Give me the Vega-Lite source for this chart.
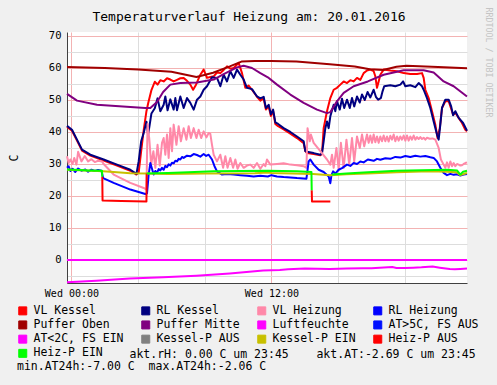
{
  "$schema": "https://vega.github.io/schema/vega-lite/v6.json",
  "width": 400,
  "height": 251,
  "autosize": {"type": "none"},
  "padding": {"left": 67, "top": 32, "right": 30, "bottom": 102},
  "background": "#f0f0f0",
  "config": {"view": {"fill": "#ffffff", "stroke": null}, "font": "DejaVu Sans Mono"},
  "title": {"text": "Temperaturverlauf Heizung am: 20.01.2016", "font": "DejaVu Sans Mono", "fontSize": 13, "fontWeight": "normal", "color": "#000000", "anchor": "middle", "frame": "group", "baseline": "alphabetic", "dx": -18, "offset": -27},
  "data": {"values": [
    {"s":"VL Kessel","t":"2016-01-19T23:44","v":41.6},{"s":"VL Kessel","t":"2016-01-20T00:02","v":40.4},{"s":"VL Kessel","t":"2016-01-20T00:20","v":37.3},{"s":"VL Kessel","t":"2016-01-20T00:38","v":34.2},{"s":"VL Kessel","t":"2016-01-20T01:08","v":32.6},{"s":"VL Kessel","t":"2016-01-20T01:56","v":31.1},{"s":"VL Kessel","t":"2016-01-20T02:44","v":29.5},{"s":"VL Kessel","t":"2016-01-20T03:32","v":27.9},{"s":"VL Kessel","t":"2016-01-20T03:54","v":26.7},{"s":"VL Kessel","t":"2016-01-20T04:02","v":27.3},{"s":"VL Kessel","t":"2016-01-20T04:11","v":34.0},{"s":"VL Kessel","t":"2016-01-20T04:20","v":40.5},{"s":"VL Kessel","t":"2016-01-20T04:30","v":46.5},{"s":"VL Kessel","t":"2016-01-20T04:36","v":48.9},{"s":"VL Kessel","t":"2016-01-20T04:48","v":53.1},{"s":"VL Kessel","t":"2016-01-20T05:00","v":55.7},{"s":"VL Kessel","t":"2016-01-20T05:10","v":54.8},{"s":"VL Kessel","t":"2016-01-20T05:20","v":56.2},{"s":"VL Kessel","t":"2016-01-20T05:32","v":55.8},{"s":"VL Kessel","t":"2016-01-20T05:44","v":56.8},{"s":"VL Kessel","t":"2016-01-20T05:56","v":56.4},{"s":"VL Kessel","t":"2016-01-20T06:08","v":55.8},{"s":"VL Kessel","t":"2016-01-20T06:20","v":56.3},{"s":"VL Kessel","t":"2016-01-20T06:32","v":56.8},{"s":"VL Kessel","t":"2016-01-20T06:44","v":56.9},{"s":"VL Kessel","t":"2016-01-20T06:56","v":56.0},{"s":"VL Kessel","t":"2016-01-20T07:08","v":54.8},{"s":"VL Kessel","t":"2016-01-20T07:18","v":53.2},{"s":"VL Kessel","t":"2016-01-20T07:28","v":54.7},{"s":"VL Kessel","t":"2016-01-20T07:44","v":57.9},{"s":"VL Kessel","t":"2016-01-20T07:56","v":59.5},{"s":"VL Kessel","t":"2016-01-20T08:08","v":56.9},{"s":"VL Kessel","t":"2016-01-20T08:20","v":57.2},{"s":"VL Kessel","t":"2016-01-20T08:32","v":57.4},{"s":"VL Kessel","t":"2016-01-20T08:44","v":58.6},{"s":"VL Kessel","t":"2016-01-20T08:56","v":58.4},{"s":"VL Kessel","t":"2016-01-20T09:08","v":59.4},{"s":"VL Kessel","t":"2016-01-20T09:20","v":60.5},{"s":"VL Kessel","t":"2016-01-20T09:32","v":59.8},{"s":"VL Kessel","t":"2016-01-20T09:44","v":60.0},{"s":"VL Kessel","t":"2016-01-20T10:02","v":61.6},{"s":"VL Kessel","t":"2016-01-20T10:14","v":58.4},{"s":"VL Kessel","t":"2016-01-20T10:26","v":53.8},{"s":"VL Kessel","t":"2016-01-20T10:38","v":54.5},{"s":"VL Kessel","t":"2016-01-20T10:50","v":53.2},{"s":"VL Kessel","t":"2016-01-20T11:08","v":51.0},{"s":"VL Kessel","t":"2016-01-20T11:20","v":49.8},{"s":"VL Kessel","t":"2016-01-20T11:32","v":50.5},{"s":"VL Kessel","t":"2016-01-20T11:40","v":47.0},{"s":"VL Kessel","t":"2016-01-20T11:50","v":48.0},{"s":"VL Kessel","t":"2016-01-20T11:58","v":45.0},{"s":"VL Kessel","t":"2016-01-20T12:06","v":46.5},{"s":"VL Kessel","t":"2016-01-20T12:14","v":42.5},{"s":"VL Kessel","t":"2016-01-20T12:24","v":41.8},{"s":"VL Kessel","t":"2016-01-20T12:44","v":40.8},{"s":"VL Kessel","t":"2016-01-20T13:08","v":39.5},{"s":"VL Kessel","t":"2016-01-20T13:32","v":38.1},{"s":"VL Kessel","t":"2016-01-20T13:56","v":36.5},{"s":"VL Kessel","t":"2016-01-20T14:02","v":34.0},{"s":"VL Kessel","t":"2016-01-20T14:08","v":33.4},{"s":"VL Kessel","t":"2016-01-20T14:32","v":33.1},{"s":"VL Kessel","t":"2016-01-20T14:56","v":32.7},{"s":"VL Kessel","t":"2016-01-20T15:02","v":33.2},{"s":"VL Kessel","t":"2016-01-20T15:08","v":41.2},{"s":"VL Kessel","t":"2016-01-20T15:20","v":46.5},{"s":"VL Kessel","t":"2016-01-20T15:32","v":50.6},{"s":"VL Kessel","t":"2016-01-20T15:44","v":53.2},{"s":"VL Kessel","t":"2016-01-20T15:56","v":53.8},{"s":"VL Kessel","t":"2016-01-20T16:08","v":54.8},{"s":"VL Kessel","t":"2016-01-20T16:20","v":55.8},{"s":"VL Kessel","t":"2016-01-20T16:32","v":55.3},{"s":"VL Kessel","t":"2016-01-20T16:44","v":56.2},{"s":"VL Kessel","t":"2016-01-20T16:56","v":55.8},{"s":"VL Kessel","t":"2016-01-20T17:08","v":56.9},{"s":"VL Kessel","t":"2016-01-20T17:20","v":56.3},{"s":"VL Kessel","t":"2016-01-20T17:32","v":58.4},{"s":"VL Kessel","t":"2016-01-20T17:44","v":59.2},{"s":"VL Kessel","t":"2016-01-20T17:56","v":59.5},{"s":"VL Kessel","t":"2016-01-20T18:08","v":59.0},{"s":"VL Kessel","t":"2016-01-20T18:14","v":57.4},{"s":"VL Kessel","t":"2016-01-20T18:20","v":53.8},{"s":"VL Kessel","t":"2016-01-20T18:26","v":55.8},{"s":"VL Kessel","t":"2016-01-20T18:32","v":57.9},{"s":"VL Kessel","t":"2016-01-20T18:44","v":59.5},{"s":"VL Kessel","t":"2016-01-20T19:08","v":59.2},{"s":"VL Kessel","t":"2016-01-20T19:32","v":59.0},{"s":"VL Kessel","t":"2016-01-20T19:56","v":58.4},{"s":"VL Kessel","t":"2016-01-20T20:20","v":58.1},{"s":"VL Kessel","t":"2016-01-20T20:44","v":58.1},{"s":"VL Kessel","t":"2016-01-20T21:02","v":58.4},{"s":"VL Kessel","t":"2016-01-20T21:08","v":56.9},{"s":"VL Kessel","t":"2016-01-20T21:14","v":53.2},{"s":"VL Kessel","t":"2016-01-20T21:26","v":50.6},{"s":"VL Kessel","t":"2016-01-20T21:38","v":46.5},{"s":"VL Kessel","t":"2016-01-20T21:50","v":42.3},{"s":"VL Kessel","t":"2016-01-20T21:58","v":38.1},{"s":"VL Kessel","t":"2016-01-20T22:06","v":41.2},{"s":"VL Kessel","t":"2016-01-20T22:14","v":47.5},{"s":"VL Kessel","t":"2016-01-20T22:26","v":49.6},{"s":"VL Kessel","t":"2016-01-20T22:38","v":49.6},{"s":"VL Kessel","t":"2016-01-20T22:46","v":47.5},{"s":"VL Kessel","t":"2016-01-20T22:54","v":45.4},{"s":"VL Kessel","t":"2016-01-20T23:02","v":46.0},{"s":"VL Kessel","t":"2016-01-20T23:14","v":44.4},{"s":"VL Kessel","t":"2016-01-20T23:26","v":42.8},{"s":"VL Kessel","t":"2016-01-20T23:38","v":40.7},{"s":"VL Kessel","t":"2016-01-20T23:44","v":40.2},
    {"s":"RL Kessel","t":"2016-01-19T23:44","v":41.9},{"s":"RL Kessel","t":"2016-01-20T00:02","v":40.7},{"s":"RL Kessel","t":"2016-01-20T00:20","v":37.6},{"s":"RL Kessel","t":"2016-01-20T00:38","v":34.5},{"s":"RL Kessel","t":"2016-01-20T01:08","v":32.9},{"s":"RL Kessel","t":"2016-01-20T01:56","v":31.4},{"s":"RL Kessel","t":"2016-01-20T02:44","v":29.8},{"s":"RL Kessel","t":"2016-01-20T03:32","v":28.2},{"s":"RL Kessel","t":"2016-01-20T03:54","v":26.9},{"s":"RL Kessel","t":"2016-01-20T04:02","v":30.8},{"s":"RL Kessel","t":"2016-01-20T04:11","v":37.1},{"s":"RL Kessel","t":"2016-01-20T04:20","v":39.7},{"s":"RL Kessel","t":"2016-01-20T04:30","v":43.2},{"s":"RL Kessel","t":"2016-01-20T04:36","v":39.1},{"s":"RL Kessel","t":"2016-01-20T04:48","v":45.8},{"s":"RL Kessel","t":"2016-01-20T05:00","v":47.4},{"s":"RL Kessel","t":"2016-01-20T05:10","v":50.5},{"s":"RL Kessel","t":"2016-01-20T05:20","v":46.5},{"s":"RL Kessel","t":"2016-01-20T05:32","v":48.5},{"s":"RL Kessel","t":"2016-01-20T05:38","v":51.1},{"s":"RL Kessel","t":"2016-01-20T05:46","v":46.8},{"s":"RL Kessel","t":"2016-01-20T05:56","v":50.2},{"s":"RL Kessel","t":"2016-01-20T06:08","v":47.0},{"s":"RL Kessel","t":"2016-01-20T06:14","v":50.6},{"s":"RL Kessel","t":"2016-01-20T06:20","v":46.8},{"s":"RL Kessel","t":"2016-01-20T06:32","v":51.1},{"s":"RL Kessel","t":"2016-01-20T06:44","v":47.5},{"s":"RL Kessel","t":"2016-01-20T06:56","v":50.6},{"s":"RL Kessel","t":"2016-01-20T07:08","v":49.1},{"s":"RL Kessel","t":"2016-01-20T07:20","v":47.0},{"s":"RL Kessel","t":"2016-01-20T07:32","v":50.1},{"s":"RL Kessel","t":"2016-01-20T07:44","v":51.1},{"s":"RL Kessel","t":"2016-01-20T07:56","v":53.2},{"s":"RL Kessel","t":"2016-01-20T08:08","v":54.3},{"s":"RL Kessel","t":"2016-01-20T08:26","v":57.1},{"s":"RL Kessel","t":"2016-01-20T08:44","v":56.9},{"s":"RL Kessel","t":"2016-01-20T08:56","v":54.3},{"s":"RL Kessel","t":"2016-01-20T09:08","v":57.9},{"s":"RL Kessel","t":"2016-01-20T09:20","v":55.8},{"s":"RL Kessel","t":"2016-01-20T09:32","v":59.0},{"s":"RL Kessel","t":"2016-01-20T09:44","v":56.9},{"s":"RL Kessel","t":"2016-01-20T09:56","v":59.5},{"s":"RL Kessel","t":"2016-01-20T10:08","v":57.9},{"s":"RL Kessel","t":"2016-01-20T10:20","v":56.4},{"s":"RL Kessel","t":"2016-01-20T10:32","v":53.8},{"s":"RL Kessel","t":"2016-01-20T10:50","v":53.4},{"s":"RL Kessel","t":"2016-01-20T11:08","v":51.1},{"s":"RL Kessel","t":"2016-01-20T11:20","v":50.5},{"s":"RL Kessel","t":"2016-01-20T11:32","v":51.0},{"s":"RL Kessel","t":"2016-01-20T11:40","v":47.5},{"s":"RL Kessel","t":"2016-01-20T11:50","v":48.5},{"s":"RL Kessel","t":"2016-01-20T11:58","v":45.5},{"s":"RL Kessel","t":"2016-01-20T12:06","v":47.0},{"s":"RL Kessel","t":"2016-01-20T12:14","v":43.0},{"s":"RL Kessel","t":"2016-01-20T12:24","v":42.5},{"s":"RL Kessel","t":"2016-01-20T12:44","v":41.2},{"s":"RL Kessel","t":"2016-01-20T13:08","v":40.0},{"s":"RL Kessel","t":"2016-01-20T13:32","v":38.6},{"s":"RL Kessel","t":"2016-01-20T13:56","v":37.1},{"s":"RL Kessel","t":"2016-01-20T14:02","v":34.0},{"s":"RL Kessel","t":"2016-01-20T14:08","v":33.8},{"s":"RL Kessel","t":"2016-01-20T14:32","v":33.4},{"s":"RL Kessel","t":"2016-01-20T14:56","v":32.9},{"s":"RL Kessel","t":"2016-01-20T15:02","v":33.4},{"s":"RL Kessel","t":"2016-01-20T15:08","v":37.1},{"s":"RL Kessel","t":"2016-01-20T15:14","v":41.2},{"s":"RL Kessel","t":"2016-01-20T15:20","v":43.3},{"s":"RL Kessel","t":"2016-01-20T15:26","v":41.2},{"s":"RL Kessel","t":"2016-01-20T15:32","v":44.9},{"s":"RL Kessel","t":"2016-01-20T15:44","v":48.5},{"s":"RL Kessel","t":"2016-01-20T15:50","v":46.5},{"s":"RL Kessel","t":"2016-01-20T15:56","v":49.6},{"s":"RL Kessel","t":"2016-01-20T16:06","v":47.0},{"s":"RL Kessel","t":"2016-01-20T16:14","v":50.4},{"s":"RL Kessel","t":"2016-01-20T16:22","v":47.5},{"s":"RL Kessel","t":"2016-01-20T16:32","v":50.1},{"s":"RL Kessel","t":"2016-01-20T16:42","v":47.5},{"s":"RL Kessel","t":"2016-01-20T16:50","v":50.6},{"s":"RL Kessel","t":"2016-01-20T16:58","v":48.0},{"s":"RL Kessel","t":"2016-01-20T17:08","v":51.1},{"s":"RL Kessel","t":"2016-01-20T17:18","v":49.2},{"s":"RL Kessel","t":"2016-01-20T17:26","v":51.7},{"s":"RL Kessel","t":"2016-01-20T17:36","v":50.0},{"s":"RL Kessel","t":"2016-01-20T17:46","v":52.5},{"s":"RL Kessel","t":"2016-01-20T17:56","v":50.8},{"s":"RL Kessel","t":"2016-01-20T18:08","v":53.2},{"s":"RL Kessel","t":"2016-01-20T18:16","v":51.0},{"s":"RL Kessel","t":"2016-01-20T18:24","v":50.1},{"s":"RL Kessel","t":"2016-01-20T18:34","v":50.6},{"s":"RL Kessel","t":"2016-01-20T18:40","v":52.7},{"s":"RL Kessel","t":"2016-01-20T18:46","v":54.3},{"s":"RL Kessel","t":"2016-01-20T19:08","v":54.6},{"s":"RL Kessel","t":"2016-01-20T19:26","v":54.3},{"s":"RL Kessel","t":"2016-01-20T19:44","v":54.8},{"s":"RL Kessel","t":"2016-01-20T19:54","v":55.8},{"s":"RL Kessel","t":"2016-01-20T20:02","v":54.3},{"s":"RL Kessel","t":"2016-01-20T20:20","v":54.6},{"s":"RL Kessel","t":"2016-01-20T20:38","v":54.0},{"s":"RL Kessel","t":"2016-01-20T20:50","v":55.3},{"s":"RL Kessel","t":"2016-01-20T21:02","v":54.3},{"s":"RL Kessel","t":"2016-01-20T21:08","v":53.2},{"s":"RL Kessel","t":"2016-01-20T21:20","v":50.6},{"s":"RL Kessel","t":"2016-01-20T21:32","v":47.5},{"s":"RL Kessel","t":"2016-01-20T21:44","v":43.3},{"s":"RL Kessel","t":"2016-01-20T21:56","v":39.2},{"s":"RL Kessel","t":"2016-01-20T22:02","v":37.6},{"s":"RL Kessel","t":"2016-01-20T22:08","v":42.3},{"s":"RL Kessel","t":"2016-01-20T22:14","v":47.5},{"s":"RL Kessel","t":"2016-01-20T22:26","v":50.1},{"s":"RL Kessel","t":"2016-01-20T22:38","v":50.1},{"s":"RL Kessel","t":"2016-01-20T22:47","v":48.0},{"s":"RL Kessel","t":"2016-01-20T22:54","v":45.2},{"s":"RL Kessel","t":"2016-01-20T23:02","v":46.5},{"s":"RL Kessel","t":"2016-01-20T23:14","v":44.4},{"s":"RL Kessel","t":"2016-01-20T23:30","v":42.8},{"s":"RL Kessel","t":"2016-01-20T23:44","v":40.4},
    {"s":"VL Heizung","t":"2016-01-19T23:44","v":32.4},{"s":"VL Heizung","t":"2016-01-19T23:50","v":30.3},{"s":"VL Heizung","t":"2016-01-19T23:56","v":31.4},{"s":"VL Heizung","t":"2016-01-20T00:04","v":30.0},{"s":"VL Heizung","t":"2016-01-20T00:10","v":31.9},{"s":"VL Heizung","t":"2016-01-20T00:18","v":29.8},{"s":"VL Heizung","t":"2016-01-20T00:24","v":33.8},{"s":"VL Heizung","t":"2016-01-20T00:36","v":30.8},{"s":"VL Heizung","t":"2016-01-20T00:48","v":32.5},{"s":"VL Heizung","t":"2016-01-20T01:00","v":30.8},{"s":"VL Heizung","t":"2016-01-20T01:12","v":31.5},{"s":"VL Heizung","t":"2016-01-20T01:24","v":30.6},{"s":"VL Heizung","t":"2016-01-20T01:36","v":31.0},{"s":"VL Heizung","t":"2016-01-20T01:50","v":30.8},{"s":"VL Heizung","t":"2016-01-20T01:56","v":30.0},{"s":"VL Heizung","t":"2016-01-20T02:32","v":26.7},{"s":"VL Heizung","t":"2016-01-20T03:32","v":24.1},{"s":"VL Heizung","t":"2016-01-20T04:20","v":22.5},{"s":"VL Heizung","t":"2016-01-20T04:30","v":22.0},{"s":"VL Heizung","t":"2016-01-20T04:34","v":42.5},{"s":"VL Heizung","t":"2016-01-20T04:40","v":38.1},{"s":"VL Heizung","t":"2016-01-20T04:47","v":29.8},{"s":"VL Heizung","t":"2016-01-20T04:55","v":34.0},{"s":"VL Heizung","t":"2016-01-20T05:02","v":28.8},{"s":"VL Heizung","t":"2016-01-20T05:10","v":36.0},{"s":"VL Heizung","t":"2016-01-20T05:18","v":29.5},{"s":"VL Heizung","t":"2016-01-20T05:26","v":36.6},{"s":"VL Heizung","t":"2016-01-20T05:32","v":38.1},{"s":"VL Heizung","t":"2016-01-20T05:38","v":32.9},{"s":"VL Heizung","t":"2016-01-20T05:44","v":39.2},{"s":"VL Heizung","t":"2016-01-20T05:50","v":31.9},{"s":"VL Heizung","t":"2016-01-20T05:56","v":41.2},{"s":"VL Heizung","t":"2016-01-20T06:02","v":34.0},{"s":"VL Heizung","t":"2016-01-20T06:08","v":42.3},{"s":"VL Heizung","t":"2016-01-20T06:18","v":36.0},{"s":"VL Heizung","t":"2016-01-20T06:26","v":41.8},{"s":"VL Heizung","t":"2016-01-20T06:34","v":37.1},{"s":"VL Heizung","t":"2016-01-20T06:44","v":41.2},{"s":"VL Heizung","t":"2016-01-20T06:54","v":37.6},{"s":"VL Heizung","t":"2016-01-20T07:02","v":41.8},{"s":"VL Heizung","t":"2016-01-20T07:10","v":38.1},{"s":"VL Heizung","t":"2016-01-20T07:20","v":41.2},{"s":"VL Heizung","t":"2016-01-20T07:30","v":38.1},{"s":"VL Heizung","t":"2016-01-20T07:38","v":40.7},{"s":"VL Heizung","t":"2016-01-20T07:47","v":38.1},{"s":"VL Heizung","t":"2016-01-20T07:56","v":40.2},{"s":"VL Heizung","t":"2016-01-20T08:06","v":38.3},{"s":"VL Heizung","t":"2016-01-20T08:14","v":39.7},{"s":"VL Heizung","t":"2016-01-20T08:20","v":39.4},{"s":"VL Heizung","t":"2016-01-20T08:26","v":36.0},{"s":"VL Heizung","t":"2016-01-20T08:32","v":32.9},{"s":"VL Heizung","t":"2016-01-20T08:44","v":30.8},{"s":"VL Heizung","t":"2016-01-20T08:56","v":32.9},{"s":"VL Heizung","t":"2016-01-20T09:06","v":28.8},{"s":"VL Heizung","t":"2016-01-20T09:14","v":32.4},{"s":"VL Heizung","t":"2016-01-20T09:22","v":28.8},{"s":"VL Heizung","t":"2016-01-20T09:32","v":31.9},{"s":"VL Heizung","t":"2016-01-20T09:42","v":28.8},{"s":"VL Heizung","t":"2016-01-20T09:50","v":31.4},{"s":"VL Heizung","t":"2016-01-20T09:58","v":28.5},{"s":"VL Heizung","t":"2016-01-20T10:08","v":30.3},{"s":"VL Heizung","t":"2016-01-20T10:20","v":28.8},{"s":"VL Heizung","t":"2016-01-20T10:32","v":29.5},{"s":"VL Heizung","t":"2016-01-20T10:44","v":29.8},{"s":"VL Heizung","t":"2016-01-20T10:56","v":28.8},{"s":"VL Heizung","t":"2016-01-20T11:08","v":30.3},{"s":"VL Heizung","t":"2016-01-20T11:20","v":28.5},{"s":"VL Heizung","t":"2016-01-20T11:32","v":30.0},{"s":"VL Heizung","t":"2016-01-20T11:38","v":29.3},{"s":"VL Heizung","t":"2016-01-20T11:44","v":31.4},{"s":"VL Heizung","t":"2016-01-20T11:56","v":29.8},{"s":"VL Heizung","t":"2016-01-20T12:20","v":30.0},{"s":"VL Heizung","t":"2016-01-20T12:44","v":30.2},{"s":"VL Heizung","t":"2016-01-20T13:08","v":29.8},{"s":"VL Heizung","t":"2016-01-20T13:32","v":29.6},{"s":"VL Heizung","t":"2016-01-20T13:56","v":29.3},{"s":"VL Heizung","t":"2016-01-20T14:06","v":28.8},{"s":"VL Heizung","t":"2016-01-20T14:10","v":41.2},{"s":"VL Heizung","t":"2016-01-20T14:18","v":37.1},{"s":"VL Heizung","t":"2016-01-20T14:22","v":39.2},{"s":"VL Heizung","t":"2016-01-20T14:32","v":36.6},{"s":"VL Heizung","t":"2016-01-20T14:56","v":34.0},{"s":"VL Heizung","t":"2016-01-20T15:20","v":31.4},{"s":"VL Heizung","t":"2016-01-20T15:32","v":29.8},{"s":"VL Heizung","t":"2016-01-20T15:38","v":32.9},{"s":"VL Heizung","t":"2016-01-20T15:44","v":28.8},{"s":"VL Heizung","t":"2016-01-20T15:54","v":35.0},{"s":"VL Heizung","t":"2016-01-20T16:02","v":28.2},{"s":"VL Heizung","t":"2016-01-20T16:10","v":36.6},{"s":"VL Heizung","t":"2016-01-20T16:20","v":28.8},{"s":"VL Heizung","t":"2016-01-20T16:30","v":37.6},{"s":"VL Heizung","t":"2016-01-20T16:40","v":29.8},{"s":"VL Heizung","t":"2016-01-20T16:50","v":38.1},{"s":"VL Heizung","t":"2016-01-20T16:58","v":30.8},{"s":"VL Heizung","t":"2016-01-20T17:08","v":38.6},{"s":"VL Heizung","t":"2016-01-20T17:18","v":35.0},{"s":"VL Heizung","t":"2016-01-20T17:26","v":39.2},{"s":"VL Heizung","t":"2016-01-20T17:34","v":35.5},{"s":"VL Heizung","t":"2016-01-20T17:44","v":39.2},{"s":"VL Heizung","t":"2016-01-20T17:50","v":36.6},{"s":"VL Heizung","t":"2016-01-20T17:56","v":38.9},{"s":"VL Heizung","t":"2016-01-20T18:02","v":36.6},{"s":"VL Heizung","t":"2016-01-20T18:08","v":39.2},{"s":"VL Heizung","t":"2016-01-20T18:14","v":36.8},{"s":"VL Heizung","t":"2016-01-20T18:20","v":38.6},{"s":"VL Heizung","t":"2016-01-20T18:26","v":36.6},{"s":"VL Heizung","t":"2016-01-20T18:32","v":38.6},{"s":"VL Heizung","t":"2016-01-20T18:38","v":37.1},{"s":"VL Heizung","t":"2016-01-20T18:44","v":38.9},{"s":"VL Heizung","t":"2016-01-20T18:50","v":37.1},{"s":"VL Heizung","t":"2016-01-20T18:56","v":38.6},{"s":"VL Heizung","t":"2016-01-20T19:02","v":37.0},{"s":"VL Heizung","t":"2016-01-20T19:08","v":38.8},{"s":"VL Heizung","t":"2016-01-20T19:14","v":37.6},{"s":"VL Heizung","t":"2016-01-20T19:20","v":39.2},{"s":"VL Heizung","t":"2016-01-20T19:26","v":37.1},{"s":"VL Heizung","t":"2016-01-20T19:32","v":38.6},{"s":"VL Heizung","t":"2016-01-20T19:38","v":37.3},{"s":"VL Heizung","t":"2016-01-20T19:44","v":38.6},{"s":"VL Heizung","t":"2016-01-20T19:50","v":37.6},{"s":"VL Heizung","t":"2016-01-20T19:56","v":38.9},{"s":"VL Heizung","t":"2016-01-20T20:02","v":37.3},{"s":"VL Heizung","t":"2016-01-20T20:08","v":38.9},{"s":"VL Heizung","t":"2016-01-20T20:14","v":37.3},{"s":"VL Heizung","t":"2016-01-20T20:20","v":38.6},{"s":"VL Heizung","t":"2016-01-20T20:26","v":37.6},{"s":"VL Heizung","t":"2016-01-20T20:32","v":38.9},{"s":"VL Heizung","t":"2016-01-20T20:38","v":37.6},{"s":"VL Heizung","t":"2016-01-20T20:44","v":38.4},{"s":"VL Heizung","t":"2016-01-20T20:50","v":37.8},{"s":"VL Heizung","t":"2016-01-20T20:56","v":38.4},{"s":"VL Heizung","t":"2016-01-20T21:02","v":37.8},{"s":"VL Heizung","t":"2016-01-20T21:08","v":38.2},{"s":"VL Heizung","t":"2016-01-20T21:14","v":37.6},{"s":"VL Heizung","t":"2016-01-20T21:20","v":38.2},{"s":"VL Heizung","t":"2016-01-20T21:30","v":37.9},{"s":"VL Heizung","t":"2016-01-20T21:40","v":38.0},{"s":"VL Heizung","t":"2016-01-20T21:50","v":37.6},{"s":"VL Heizung","t":"2016-01-20T22:02","v":35.0},{"s":"VL Heizung","t":"2016-01-20T22:10","v":31.4},{"s":"VL Heizung","t":"2016-01-20T22:20","v":29.8},{"s":"VL Heizung","t":"2016-01-20T22:26","v":28.8},{"s":"VL Heizung","t":"2016-01-20T22:32","v":30.5},{"s":"VL Heizung","t":"2016-01-20T22:38","v":28.8},{"s":"VL Heizung","t":"2016-01-20T22:44","v":30.8},{"s":"VL Heizung","t":"2016-01-20T22:50","v":29.3},{"s":"VL Heizung","t":"2016-01-20T22:56","v":30.3},{"s":"VL Heizung","t":"2016-01-20T23:02","v":29.3},{"s":"VL Heizung","t":"2016-01-20T23:08","v":30.0},{"s":"VL Heizung","t":"2016-01-20T23:14","v":29.8},{"s":"VL Heizung","t":"2016-01-20T23:20","v":29.5},{"s":"VL Heizung","t":"2016-01-20T23:26","v":29.6},{"s":"VL Heizung","t":"2016-01-20T23:32","v":30.0},{"s":"VL Heizung","t":"2016-01-20T23:38","v":30.3},{"s":"VL Heizung","t":"2016-01-20T23:44","v":30.5},
    {"s":"RL Heizung","t":"2016-01-19T23:44","v":28.8},{"s":"RL Heizung","t":"2016-01-19T23:50","v":29.3},{"s":"RL Heizung","t":"2016-01-19T23:56","v":27.8},{"s":"RL Heizung","t":"2016-01-20T00:04","v":28.5},{"s":"RL Heizung","t":"2016-01-20T00:14","v":27.5},{"s":"RL Heizung","t":"2016-01-20T00:24","v":28.6},{"s":"RL Heizung","t":"2016-01-20T00:36","v":27.9},{"s":"RL Heizung","t":"2016-01-20T00:50","v":28.3},{"s":"RL Heizung","t":"2016-01-20T01:00","v":27.6},{"s":"RL Heizung","t":"2016-01-20T01:12","v":28.2},{"s":"RL Heizung","t":"2016-01-20T01:24","v":27.8},{"s":"RL Heizung","t":"2016-01-20T01:36","v":28.1},{"s":"RL Heizung","t":"2016-01-20T01:48","v":27.9},{"s":"RL Heizung","t":"2016-01-20T01:54","v":25.6},{"s":"RL Heizung","t":"2016-01-20T02:32","v":24.1},{"s":"RL Heizung","t":"2016-01-20T03:32","v":22.0},{"s":"RL Heizung","t":"2016-01-20T04:26","v":20.6},{"s":"RL Heizung","t":"2016-01-20T04:32","v":20.8},{"s":"RL Heizung","t":"2016-01-20T04:38","v":26.7},{"s":"RL Heizung","t":"2016-01-20T04:44","v":30.3},{"s":"RL Heizung","t":"2016-01-20T04:50","v":28.5},{"s":"RL Heizung","t":"2016-01-20T04:56","v":26.7},{"s":"RL Heizung","t":"2016-01-20T05:02","v":27.8},{"s":"RL Heizung","t":"2016-01-20T05:08","v":27.2},{"s":"RL Heizung","t":"2016-01-20T05:14","v":28.4},{"s":"RL Heizung","t":"2016-01-20T05:20","v":28.0},{"s":"RL Heizung","t":"2016-01-20T05:26","v":28.8},{"s":"RL Heizung","t":"2016-01-20T05:32","v":28.2},{"s":"RL Heizung","t":"2016-01-20T05:38","v":29.4},{"s":"RL Heizung","t":"2016-01-20T05:44","v":29.0},{"s":"RL Heizung","t":"2016-01-20T05:50","v":29.9},{"s":"RL Heizung","t":"2016-01-20T05:56","v":29.5},{"s":"RL Heizung","t":"2016-01-20T06:02","v":30.4},{"s":"RL Heizung","t":"2016-01-20T06:08","v":30.2},{"s":"RL Heizung","t":"2016-01-20T06:14","v":31.0},{"s":"RL Heizung","t":"2016-01-20T06:20","v":30.8},{"s":"RL Heizung","t":"2016-01-20T06:26","v":31.6},{"s":"RL Heizung","t":"2016-01-20T06:32","v":31.4},{"s":"RL Heizung","t":"2016-01-20T06:38","v":32.2},{"s":"RL Heizung","t":"2016-01-20T06:44","v":31.9},{"s":"RL Heizung","t":"2016-01-20T06:56","v":32.6},{"s":"RL Heizung","t":"2016-01-20T07:08","v":32.4},{"s":"RL Heizung","t":"2016-01-20T07:20","v":33.1},{"s":"RL Heizung","t":"2016-01-20T07:32","v":32.8},{"s":"RL Heizung","t":"2016-01-20T07:44","v":32.3},{"s":"RL Heizung","t":"2016-01-20T07:56","v":33.1},{"s":"RL Heizung","t":"2016-01-20T08:05","v":32.5},{"s":"RL Heizung","t":"2016-01-20T08:14","v":32.9},{"s":"RL Heizung","t":"2016-01-20T08:26","v":31.4},{"s":"RL Heizung","t":"2016-01-20T08:35","v":29.3},{"s":"RL Heizung","t":"2016-01-20T08:44","v":27.7},{"s":"RL Heizung","t":"2016-01-20T09:02","v":26.7},{"s":"RL Heizung","t":"2016-01-20T09:20","v":26.9},{"s":"RL Heizung","t":"2016-01-20T09:44","v":26.7},{"s":"RL Heizung","t":"2016-01-20T10:08","v":26.5},{"s":"RL Heizung","t":"2016-01-20T10:32","v":26.3},{"s":"RL Heizung","t":"2016-01-20T10:56","v":26.1},{"s":"RL Heizung","t":"2016-01-20T11:20","v":26.3},{"s":"RL Heizung","t":"2016-01-20T11:47","v":26.1},{"s":"RL Heizung","t":"2016-01-20T12:00","v":26.5},{"s":"RL Heizung","t":"2016-01-20T12:20","v":26.1},{"s":"RL Heizung","t":"2016-01-20T12:44","v":25.9},{"s":"RL Heizung","t":"2016-01-20T13:08","v":25.8},{"s":"RL Heizung","t":"2016-01-20T13:32","v":25.6},{"s":"RL Heizung","t":"2016-01-20T14:06","v":25.4},{"s":"RL Heizung","t":"2016-01-20T14:14","v":30.8},{"s":"RL Heizung","t":"2016-01-20T14:20","v":31.4},{"s":"RL Heizung","t":"2016-01-20T14:32","v":29.8},{"s":"RL Heizung","t":"2016-01-20T14:50","v":28.2},{"s":"RL Heizung","t":"2016-01-20T15:08","v":27.5},{"s":"RL Heizung","t":"2016-01-20T15:26","v":26.1},{"s":"RL Heizung","t":"2016-01-20T15:32","v":24.0},{"s":"RL Heizung","t":"2016-01-20T15:36","v":26.5},{"s":"RL Heizung","t":"2016-01-20T15:42","v":27.7},{"s":"RL Heizung","t":"2016-01-20T15:50","v":27.0},{"s":"RL Heizung","t":"2016-01-20T16:02","v":28.2},{"s":"RL Heizung","t":"2016-01-20T16:14","v":28.7},{"s":"RL Heizung","t":"2016-01-20T16:32","v":29.8},{"s":"RL Heizung","t":"2016-01-20T16:44","v":29.4},{"s":"RL Heizung","t":"2016-01-20T16:56","v":30.3},{"s":"RL Heizung","t":"2016-01-20T17:08","v":30.0},{"s":"RL Heizung","t":"2016-01-20T17:20","v":30.8},{"s":"RL Heizung","t":"2016-01-20T17:32","v":30.5},{"s":"RL Heizung","t":"2016-01-20T17:47","v":31.4},{"s":"RL Heizung","t":"2016-01-20T18:08","v":31.0},{"s":"RL Heizung","t":"2016-01-20T18:20","v":31.6},{"s":"RL Heizung","t":"2016-01-20T18:32","v":31.3},{"s":"RL Heizung","t":"2016-01-20T18:50","v":31.8},{"s":"RL Heizung","t":"2016-01-20T19:08","v":31.6},{"s":"RL Heizung","t":"2016-01-20T19:26","v":32.2},{"s":"RL Heizung","t":"2016-01-20T19:44","v":32.0},{"s":"RL Heizung","t":"2016-01-20T20:02","v":32.5},{"s":"RL Heizung","t":"2016-01-20T20:20","v":32.2},{"s":"RL Heizung","t":"2016-01-20T20:38","v":32.6},{"s":"RL Heizung","t":"2016-01-20T20:56","v":32.3},{"s":"RL Heizung","t":"2016-01-20T21:14","v":32.5},{"s":"RL Heizung","t":"2016-01-20T21:32","v":32.1},{"s":"RL Heizung","t":"2016-01-20T21:44","v":31.9},{"s":"RL Heizung","t":"2016-01-20T21:56","v":30.8},{"s":"RL Heizung","t":"2016-01-20T22:08","v":28.8},{"s":"RL Heizung","t":"2016-01-20T22:20","v":27.2},{"s":"RL Heizung","t":"2016-01-20T22:32","v":26.5},{"s":"RL Heizung","t":"2016-01-20T22:44","v":26.9},{"s":"RL Heizung","t":"2016-01-20T22:56","v":26.6},{"s":"RL Heizung","t":"2016-01-20T23:08","v":26.8},{"s":"RL Heizung","t":"2016-01-20T23:20","v":26.4},{"s":"RL Heizung","t":"2016-01-20T23:32","v":26.7},{"s":"RL Heizung","t":"2016-01-20T23:44","v":26.9},
    {"s":"Puffer Oben","t":"2016-01-19T23:44","v":60.3},{"s":"Puffer Oben","t":"2016-01-20T02:00","v":60.0},{"s":"Puffer Oben","t":"2016-01-20T04:00","v":59.5},{"s":"Puffer Oben","t":"2016-01-20T06:00","v":58.8},{"s":"Puffer Oben","t":"2016-01-20T07:30","v":57.2},{"s":"Puffer Oben","t":"2016-01-20T08:30","v":58.5},{"s":"Puffer Oben","t":"2016-01-20T09:30","v":60.5},{"s":"Puffer Oben","t":"2016-01-20T10:12","v":62.0},{"s":"Puffer Oben","t":"2016-01-20T11:00","v":62.2},{"s":"Puffer Oben","t":"2016-01-20T12:00","v":62.2},{"s":"Puffer Oben","t":"2016-01-20T13:30","v":62.0},{"s":"Puffer Oben","t":"2016-01-20T15:30","v":61.2},{"s":"Puffer Oben","t":"2016-01-20T17:00","v":60.5},{"s":"Puffer Oben","t":"2016-01-20T17:54","v":59.6},{"s":"Puffer Oben","t":"2016-01-20T18:42","v":59.4},{"s":"Puffer Oben","t":"2016-01-20T19:30","v":60.4},{"s":"Puffer Oben","t":"2016-01-20T20:06","v":60.7},{"s":"Puffer Oben","t":"2016-01-20T22:00","v":60.3},{"s":"Puffer Oben","t":"2016-01-20T23:44","v":59.9},
    {"s":"Puffer Mitte","t":"2016-01-19T23:44","v":51.9},{"s":"Puffer Mitte","t":"2016-01-20T00:20","v":49.8},{"s":"Puffer Mitte","t":"2016-01-20T01:32","v":48.5},{"s":"Puffer Mitte","t":"2016-01-20T03:32","v":47.8},{"s":"Puffer Mitte","t":"2016-01-20T04:26","v":47.5},{"s":"Puffer Mitte","t":"2016-01-20T04:44","v":47.5},{"s":"Puffer Mitte","t":"2016-01-20T05:08","v":49.4},{"s":"Puffer Mitte","t":"2016-01-20T05:30","v":52.5},{"s":"Puffer Mitte","t":"2016-01-20T05:56","v":54.8},{"s":"Puffer Mitte","t":"2016-01-20T06:32","v":55.3},{"s":"Puffer Mitte","t":"2016-01-20T07:32","v":55.5},{"s":"Puffer Mitte","t":"2016-01-20T08:32","v":56.4},{"s":"Puffer Mitte","t":"2016-01-20T09:08","v":58.1},{"s":"Puffer Mitte","t":"2016-01-20T09:56","v":60.2},{"s":"Puffer Mitte","t":"2016-01-20T10:20","v":60.7},{"s":"Puffer Mitte","t":"2016-01-20T10:50","v":60.0},{"s":"Puffer Mitte","t":"2016-01-20T11:20","v":58.4},{"s":"Puffer Mitte","t":"2016-01-20T11:47","v":57.1},{"s":"Puffer Mitte","t":"2016-01-20T12:20","v":54.8},{"s":"Puffer Mitte","t":"2016-01-20T13:08","v":51.7},{"s":"Puffer Mitte","t":"2016-01-20T13:56","v":49.1},{"s":"Puffer Mitte","t":"2016-01-20T14:44","v":47.0},{"s":"Puffer Mitte","t":"2016-01-20T15:20","v":45.9},{"s":"Puffer Mitte","t":"2016-01-20T15:32","v":46.2},{"s":"Puffer Mitte","t":"2016-01-20T15:56","v":49.6},{"s":"Puffer Mitte","t":"2016-01-20T16:20","v":52.2},{"s":"Puffer Mitte","t":"2016-01-20T16:56","v":54.3},{"s":"Puffer Mitte","t":"2016-01-20T17:47","v":55.8},{"s":"Puffer Mitte","t":"2016-01-20T18:44","v":57.9},{"s":"Puffer Mitte","t":"2016-01-20T19:56","v":59.3},{"s":"Puffer Mitte","t":"2016-01-20T21:08","v":59.3},{"s":"Puffer Mitte","t":"2016-01-20T21:44","v":58.6},{"s":"Puffer Mitte","t":"2016-01-20T22:20","v":55.8},{"s":"Puffer Mitte","t":"2016-01-20T22:56","v":54.3},{"s":"Puffer Mitte","t":"2016-01-20T23:44","v":51.1},
    {"s":"Luftfeuchte","t":"2016-01-19T23:44","v":0},{"s":"Luftfeuchte","t":"2016-01-20T23:44","v":0},
    {"s":"AT<2C, FS EIN","t":"2016-01-19T23:44","v":-7.0},{"s":"AT<2C, FS EIN","t":"2016-01-20T01:30","v":-6.5},{"s":"AT<2C, FS EIN","t":"2016-01-20T03:30","v":-5.8},{"s":"AT<2C, FS EIN","t":"2016-01-20T05:30","v":-5.4},{"s":"AT<2C, FS EIN","t":"2016-01-20T07:30","v":-4.9},{"s":"AT<2C, FS EIN","t":"2016-01-20T09:30","v":-4.2},{"s":"AT<2C, FS EIN","t":"2016-01-20T11:30","v":-3.3},{"s":"AT<2C, FS EIN","t":"2016-01-20T12:30","v":-3.1},{"s":"AT<2C, FS EIN","t":"2016-01-20T13:00","v":-2.9},{"s":"AT<2C, FS EIN","t":"2016-01-20T14:00","v":-2.7},{"s":"AT<2C, FS EIN","t":"2016-01-20T15:30","v":-2.8},{"s":"AT<2C, FS EIN","t":"2016-01-20T16:30","v":-2.7},{"s":"AT<2C, FS EIN","t":"2016-01-20T17:30","v":-2.6},{"s":"AT<2C, FS EIN","t":"2016-01-20T18:00","v":-2.6},{"s":"AT<2C, FS EIN","t":"2016-01-20T19:00","v":-2.3},{"s":"AT<2C, FS EIN","t":"2016-01-20T19:15","v":-2.2},{"s":"AT<2C, FS EIN","t":"2016-01-20T19:30","v":-2.5},{"s":"AT<2C, FS EIN","t":"2016-01-20T20:00","v":-2.5},{"s":"AT<2C, FS EIN","t":"2016-01-20T20:30","v":-2.4},{"s":"AT<2C, FS EIN","t":"2016-01-20T21:00","v":-2.3},{"s":"AT<2C, FS EIN","t":"2016-01-20T21:40","v":-2.06},{"s":"AT<2C, FS EIN","t":"2016-01-20T22:06","v":-2.4},{"s":"AT<2C, FS EIN","t":"2016-01-20T22:42","v":-2.8},{"s":"AT<2C, FS EIN","t":"2016-01-20T23:00","v":-2.9},{"s":"AT<2C, FS EIN","t":"2016-01-20T23:20","v":-2.8},{"s":"AT<2C, FS EIN","t":"2016-01-20T23:44","v":-2.69},
    {"s":"Kessel-P EIN","t":"2016-01-19T23:44","v":28.2},{"s":"Kessel-P EIN","t":"2016-01-20T01:54","v":27.7},{"s":"Kessel-P EIN","t":"2016-01-20T02:32","v":27.5},{"s":"Kessel-P EIN","t":"2016-01-20T03:32","v":27.1},{"s":"Kessel-P EIN","t":"2016-01-20T04:32","v":27.0},{"s":"Kessel-P EIN","t":"2016-01-20T05:47","v":26.9},{"s":"Kessel-P EIN","t":"2016-01-20T08:00","v":27.0},{"s":"Kessel-P EIN","t":"2016-01-20T11:00","v":27.1},{"s":"Kessel-P EIN","t":"2016-01-20T11:47","v":27.3},{"s":"Kessel-P EIN","t":"2016-01-20T12:00","v":27.2},{"s":"Kessel-P EIN","t":"2016-01-20T14:30","v":26.9},{"s":"Kessel-P EIN","t":"2016-01-20T15:32","v":26.5},{"s":"Kessel-P EIN","t":"2016-01-20T16:30","v":26.8},{"s":"Kessel-P EIN","t":"2016-01-20T17:47","v":27.0},{"s":"Kessel-P EIN","t":"2016-01-20T19:30","v":27.4},{"s":"Kessel-P EIN","t":"2016-01-20T21:30","v":27.7},{"s":"Kessel-P EIN","t":"2016-01-20T22:30","v":27.6},{"s":"Kessel-P EIN","t":"2016-01-20T23:06","v":27.4},{"s":"Kessel-P EIN","t":"2016-01-20T23:20","v":26.5},{"s":"Kessel-P EIN","t":"2016-01-20T23:44","v":27.2},
    {"s":"Heiz-P AUS","g":1,"t":"2016-01-20T01:51","v":26.0},{"s":"Heiz-P AUS","g":1,"t":"2016-01-20T01:52","v":18.6},{"s":"Heiz-P AUS","g":1,"t":"2016-01-20T03:00","v":18.4},{"s":"Heiz-P AUS","g":1,"t":"2016-01-20T04:30","v":18.3},{"s":"Heiz-P AUS","g":1,"t":"2016-01-20T04:31","v":27.0},
    {"s":"Heiz-P AUS","g":2,"t":"2016-01-20T14:25","v":21.8},{"s":"Heiz-P AUS","g":2,"t":"2016-01-20T14:26","v":18.3},{"s":"Heiz-P AUS","g":2,"t":"2016-01-20T15:32","v":18.3},
    {"s":"Heiz-P EIN","g":1,"t":"2016-01-19T23:44","v":28.3},{"s":"Heiz-P EIN","g":1,"t":"2016-01-20T00:30","v":28.1},{"s":"Heiz-P EIN","g":1,"t":"2016-01-20T01:00","v":28.0},{"s":"Heiz-P EIN","g":1,"t":"2016-01-20T01:50","v":27.9},{"s":"Heiz-P EIN","g":1,"t":"2016-01-20T01:51","v":26.0},
    {"s":"Heiz-P EIN","g":2,"t":"2016-01-20T04:31","v":27.0},{"s":"Heiz-P EIN","g":2,"t":"2016-01-20T05:47","v":27.2},{"s":"Heiz-P EIN","g":2,"t":"2016-01-20T07:00","v":27.4},{"s":"Heiz-P EIN","g":2,"t":"2016-01-20T08:32","v":27.7},{"s":"Heiz-P EIN","g":2,"t":"2016-01-20T11:47","v":27.9},{"s":"Heiz-P EIN","g":2,"t":"2016-01-20T13:32","v":27.7},{"s":"Heiz-P EIN","g":2,"t":"2016-01-20T14:24","v":27.5},{"s":"Heiz-P EIN","g":2,"t":"2016-01-20T14:25","v":21.8},
    {"s":"Heiz-P EIN","g":3,"t":"2016-01-20T15:38","v":26.7},{"s":"Heiz-P EIN","g":3,"t":"2016-01-20T16:30","v":27.0},{"s":"Heiz-P EIN","g":3,"t":"2016-01-20T17:47","v":27.4},{"s":"Heiz-P EIN","g":3,"t":"2016-01-20T19:32","v":27.9},{"s":"Heiz-P EIN","g":3,"t":"2016-01-20T22:32","v":28.2},{"s":"Heiz-P EIN","g":3,"t":"2016-01-20T23:08","v":28.0},{"s":"Heiz-P EIN","g":3,"t":"2016-01-20T23:20","v":26.7},{"s":"Heiz-P EIN","g":3,"t":"2016-01-20T23:30","v":27.6},{"s":"Heiz-P EIN","g":3,"t":"2016-01-20T23:44","v":27.9}
  ]},
  "layer": [
    {
      "transform": [{"filter": "datum.s !== 'Luftfeuchte'"}],
      "mark": {"type": "line", "strokeWidth": 2, "strokeJoin": "round"},
      "encoding": {
        "x": {"field": "t", "type": "temporal",
          "scale": {"domain": [{"year": 2016, "month": 1, "date": 19, "hours": 23, "minutes": 44}, {"year": 2016, "month": 1, "date": 20, "hours": 23, "minutes": 44}]},
          "axis": {
            "values": [
              {"year": 2016, "month": 1, "date": 20, "hours": 0}, {"year": 2016, "month": 1, "date": 20, "hours": 1}, {"year": 2016, "month": 1, "date": 20, "hours": 2}, {"year": 2016, "month": 1, "date": 20, "hours": 3},
              {"year": 2016, "month": 1, "date": 20, "hours": 4}, {"year": 2016, "month": 1, "date": 20, "hours": 5}, {"year": 2016, "month": 1, "date": 20, "hours": 6}, {"year": 2016, "month": 1, "date": 20, "hours": 7},
              {"year": 2016, "month": 1, "date": 20, "hours": 8}, {"year": 2016, "month": 1, "date": 20, "hours": 9}, {"year": 2016, "month": 1, "date": 20, "hours": 10}, {"year": 2016, "month": 1, "date": 20, "hours": 11},
              {"year": 2016, "month": 1, "date": 20, "hours": 12}, {"year": 2016, "month": 1, "date": 20, "hours": 13}, {"year": 2016, "month": 1, "date": 20, "hours": 14}, {"year": 2016, "month": 1, "date": 20, "hours": 15},
              {"year": 2016, "month": 1, "date": 20, "hours": 16}, {"year": 2016, "month": 1, "date": 20, "hours": 17}, {"year": 2016, "month": 1, "date": 20, "hours": 18}, {"year": 2016, "month": 1, "date": 20, "hours": 19},
              {"year": 2016, "month": 1, "date": 20, "hours": 20}, {"year": 2016, "month": 1, "date": 20, "hours": 21}, {"year": 2016, "month": 1, "date": 20, "hours": 22}, {"year": 2016, "month": 1, "date": 20, "hours": 23}
            ],
            "format": "%a %H:%M",
            "labelExpr": "hours(datum.value) % 12 === 0 ? datum.label : ''",
            "labelFont": "DejaVu Sans Mono", "labelFontSize": 10, "labelColor": "#000000", "labelPadding": 5, "labelFlush": false,
            "ticks": false, "domainColor": "#404040", "domainWidth": 1,
            "gridColor": {"condition": {"test": "hours(datum.value) % 6 === 0", "value": "#f3b3b3"}, "value": "#dddddd"},
            "gridWidth": 1,
            "title": "akt.rH: 0.00 C um 23:45\u00a0\u00a0\u00a0\u00a0akt.AT:-2.69 C um 23:45",
            "titleX": 62, "titleY": 74, "titleAlign": "left", "titleBaseline": "alphabetic", "titleAngle": 0,
            "titleFont": "DejaVu Sans Mono", "titleFontSize": 11.5, "titleFontWeight": "normal", "titleColor": "#000000"
          }
        },
        "y": {"field": "v", "type": "quantitative",
          "scale": {"domain": [-7.2, 71.25], "nice": false, "zero": false},
          "axis": {
            "values": [-5, 0, 5, 10, 15, 20, 25, 30, 35, 40, 45, 50, 55, 60, 65, 70],
            "labelExpr": "datum.value % 10 === 0 ? datum.label : ''",
            "labelFont": "DejaVu Sans Mono", "labelFontSize": 10.5, "labelColor": "#000000", "labelPadding": 6,
            "ticks": false, "domainColor": "#404040", "domainWidth": 1,
            "gridColor": {"condition": {"test": "datum.value % 10 === 0", "value": "#f3b3b3"}, "value": "#dddddd"},
            "gridWidth": 1,
            "title": "C", "titleX": -53, "titleY": 125.5, "titleAngle": -90, "titleAlign": "center", "titleBaseline": "middle",
            "titleFont": "DejaVu Sans Mono", "titleFontSize": 11.5, "titleFontWeight": "normal", "titleColor": "#000000"
          }
        },
        "color": {"field": "s", "type": "nominal",
          "scale": {
            "domain": ["VL Kessel", "RL Kessel", "VL Heizung", "RL Heizung", "Puffer Oben", "Puffer Mitte", "Luftfeuchte", "AT>5C, FS AUS", "AT<2C, FS EIN", "Kessel-P AUS", "Kessel-P EIN", "Heiz-P AUS", "Heiz-P EIN"],
            "range": ["#ff0000", "#000080", "#ff88a8", "#0000ff", "#a00000", "#800080", "#ff00ff", "#0010ff", "#ff00ff", "#808080", "#c8c000", "#ff0000", "#00ff00"]
          },
          "legend": {
            "title": "min.AT24h:-7.00 C\u00a0\u00a0max.AT24h:-2.06 C", "titleOrient": "bottom", "titleAnchor": "start", "titleAlign": "left", "titlePadding": 2, "titleLimit": 480,
            "titleFont": "DejaVu Sans Mono", "titleFontSize": 11.5, "titleFontWeight": "normal", "titleColor": "#000000",
            "orient": "none", "legendX": -50, "legendY": 273, "direction": "horizontal",
            "columns": 4, "gridAlign": "each", "columnPadding": 15, "rowPadding": 1.2, "padding": 0,
            "labelFont": "DejaVu Sans Mono", "labelFontSize": 11.5, "labelColor": "#000000", "labelOffset": 5, "labelLimit": 0,
            "symbolType": "square", "symbolSize": 64, "symbolStrokeWidth": 1,
            "encode": {"symbols": {"update": {"fill": {"signal": "scale('color', datum.value)"}, "stroke": {"value": "#000000"}, "strokeWidth": {"value": 1}, "fillOpacity": {"value": 1}, "opacity": {"value": 1}}}}
          }
        },
        "detail": {"field": "g", "type": "nominal"}
      }
    },
    {
      "transform": [{"filter": "datum.s === 'Luftfeuchte'"}],
      "mark": {"type": "line", "strokeWidth": 2},
      "encoding": {
        "x": {"field": "t", "type": "temporal"},
        "y": {"field": "v", "type": "quantitative",
          "axis": {"orient": "right", "labels": false, "ticks": false, "domain": false, "grid": false,
            "title": "RRDTOOL / TOBI OETIKER", "titleX": 20, "titleY": -25, "titleAngle": 90, "titleAlign": "left", "titleBaseline": "middle",
            "titleFont": "DejaVu Sans Mono", "titleFontSize": 8.3, "titleFontWeight": "normal", "titleColor": "#c4c4c4"}
        },
        "color": {"field": "s", "type": "nominal", "legend": null}
      }
    }
  ],
  "resolve": {"axis": {"y": "independent"}}
}
